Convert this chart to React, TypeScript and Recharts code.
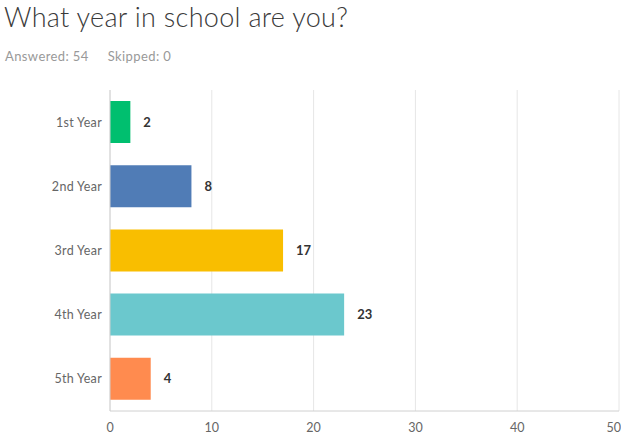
import { BarChart, Bar, XAxis, YAxis, CartesianGrid, Cell, LabelList } from 'recharts';

const years = ['1st Year', '2nd Year', '3rd Year', '4th Year', '5th Year'];
const counts = [2, 8, 17, 23, 4];
const colors = ['#00bf6f', '#507cb6', '#f9be00', '#6bc8cd', '#ff8b4f'];
const xTicks = [0, 10, 20, 30, 40, 50];

const data = years.map((year, i) => ({ year, count: counts[i] }));

const font = 'Lato, "Open Sans", sans-serif';

export default function App() {
  return (
    <div style={{ position: 'absolute', left: 0, top: 0, width: 621, height: 438, background: '#fff', fontFamily: font }}>
      <div style={{ position: 'absolute', left: 4, top: 0, fontSize: 27, fontWeight: 300, color: '#3a3a3a', lineHeight: '34px', whiteSpace: 'nowrap', letterSpacing: 0.3 }}>
        What year in school are you?
      </div>
      <div style={{ position: 'absolute', left: 5, top: 48, fontSize: 13, color: '#999', whiteSpace: 'nowrap', letterSpacing: 0.4 }}>
        Answered: 54<span style={{ display: 'inline-block', width: 19 }} />Skipped: 0
      </div>
      <div style={{ position: 'absolute', left: 0, top: 0 }}>
        <BarChart
          width={621}
          height={438}
          data={data}
          layout="vertical"
          margin={{ top: 90, right: 2, bottom: 0, left: 0 }}
        >
          <CartesianGrid horizontal={false} stroke="#e6e6e6" />
          <XAxis
            type="number"
            domain={[0, 50]}
            ticks={xTicks}
            height={27}
            tickLine={false}
            axisLine={{ stroke: '#d0d0d0' }}
            tickMargin={6}
            tick={{ fill: '#666', fontSize: 12.5, fontFamily: font }}
          />
          <YAxis
            type="category"
            dataKey="year"
            width={110}
            tickLine={false}
            axisLine={{ stroke: '#d0d0d0' }}
            tick={{ fill: '#666', fontSize: 12.5, fontFamily: font, letterSpacing: 0.3 }}
          />
          <Bar dataKey="count" barSize={42} isAnimationActive={false}>
            {data.map((_, idx) => (
              <Cell key={idx} fill={colors[idx]} />
            ))}
            <LabelList
              dataKey="count"
              position="right"
              offset={13}
              style={{ fill: '#333', fontSize: 13, fontWeight: 700, fontFamily: font }}
            />
          </Bar>
        </BarChart>
      </div>
    </div>
  );
}
